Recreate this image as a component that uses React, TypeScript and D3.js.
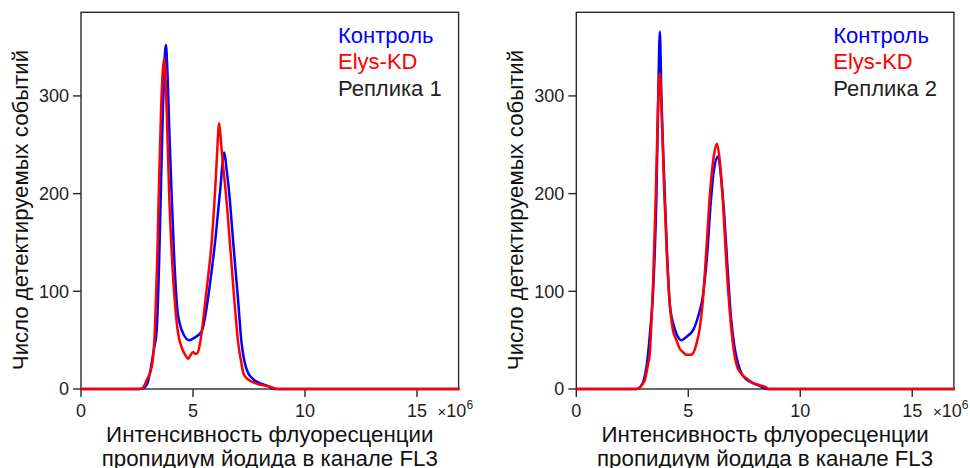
import React from "react";
import * as d3 from "d3";

// x values in units of 10^6, y = event counts
const rep1Control: [number, number][] = [
  [0, 0], [2.6, 0], [2.8, 1], [2.95, 5], [3.1, 19], [3.25, 40], [3.38, 60], [3.5, 140],
  [3.56, 197], [3.65, 280], [3.72, 330], [3.79, 352], [3.85, 330], [3.95, 260], [4.05, 197],
  [4.15, 140], [4.3, 82], [4.42, 66], [4.6, 55], [4.83, 50], [5.1, 53], [5.39, 59], [5.55, 75],
  [5.8, 115], [5.98, 149], [6.2, 200], [6.4, 242], [6.5, 225], [6.62, 200], [6.8, 149],
  [7.0, 95], [7.17, 47], [7.3, 28], [7.47, 16], [7.65, 11], [7.84, 7.5], [8.1, 5], [8.36, 3],
  [8.55, 0.5], [8.7, 0], [16.9, 0],
];
const rep1ElysKD: [number, number][] = [
  [0, 0], [2.6, 0], [2.75, 1], [2.93, 9], [3.16, 23], [3.3, 60], [3.4, 130], [3.47, 197],
  [3.58, 290], [3.72, 338], [3.82, 290], [3.94, 197], [4.05, 140], [4.23, 78], [4.35, 55],
  [4.49, 43], [4.65, 35], [4.79, 31], [4.9, 35], [5.01, 38], [5.1, 36], [5.19, 36.5],
  [5.3, 45], [5.4, 60], [5.55, 90], [5.7, 120], [5.83, 149], [5.98, 200], [6.06, 234],
  [6.17, 272], [6.26, 250], [6.36, 225], [6.47, 200], [6.65, 149], [6.85, 90], [7.02, 47],
  [7.15, 28], [7.25, 16], [7.45, 10], [7.62, 7.5], [8.07, 4], [8.44, 2.4], [8.74, 0], [16.9, 0],
];
const rep2Control: [number, number][] = [
  [0, 0], [2.7, 0], [2.85, 2], [3.0, 8], [3.15, 25], [3.3, 60], [3.43, 100], [3.58, 200],
  [3.66, 300], [3.73, 366], [3.8, 300], [3.95, 200], [4.05, 140], [4.17, 88], [4.35, 65],
  [4.5, 55], [4.69, 50], [4.95, 54], [5.21, 60], [5.45, 75], [5.65, 95], [5.85, 140],
  [6.0, 190], [6.15, 225], [6.33, 238], [6.45, 220], [6.6, 180], [6.75, 125], [6.9, 75],
  [7.05, 45], [7.22, 26], [7.4, 15], [7.59, 10], [7.9, 6], [8.2, 3], [8.45, 0.5], [8.6, 0],
  [16.9, 0],
];
const rep2ElysKD: [number, number][] = [
  [0, 0], [2.7, 0], [2.85, 2], [3.06, 9], [3.2, 25], [3.28, 36], [3.36, 71], [3.43, 110],
  [3.55, 200], [3.65, 290], [3.73, 323], [3.8, 290], [3.93, 200], [4.05, 135], [4.17, 88],
  [4.3, 62], [4.47, 50], [4.6, 42], [4.75, 38], [4.92, 35], [5.1, 35], [5.21, 36.5],
  [5.35, 45], [5.51, 62], [5.65, 90], [5.8, 140], [5.97, 200], [6.15, 240], [6.28, 251],
  [6.4, 235], [6.55, 190], [6.7, 129], [6.85, 80], [7.0, 45], [7.14, 26], [7.35, 16],
  [7.59, 11], [7.9, 6], [8.18, 4], [8.45, 2], [8.62, 0], [16.9, 0],
];

const xTicks = [0, 5, 10, 15];
const yTicks = [0, 100, 200, 300];
const legendLabels = ["Контроль", "Elys-KD"];
const replicaLabels = ["Реплика 1", "Реплика 2"];
const xTitleLines = ["Интенсивность флуоресценции", "пропидиум йодида в канале FL3"];
const yTitle = "Число детектируемых событий";

const FONT = "'Liberation Sans', Arial, sans-serif";
const AXIS = "#2a2a2a";

function Panel({ left, control, kd, replica }: { left: number; control: [number, number][]; kd: [number, number][]; replica: string }) {
  const width = 377.6;
  const top = 12.3;
  const bottom = 389;
  const x = d3.scaleLinear().domain([0, 16.86]).range([left, left + width]);
  const y = d3.scaleLinear().domain([0, 385.6]).range([bottom, top]);
  const line = d3
    .line<[number, number]>()
    .x((d) => x(d[0]))
    .y((d) => y(d[1]))
    .curve(d3.curveMonotoneX);
  const right = left + width;
  const cx = left + width / 2;
  return (
    <g>
      <rect x={left} y={top} width={width} height={bottom - top} fill="none" stroke={AXIS} strokeWidth={1.4} />
      {xTicks.map((t) => (
        <g key={"x" + t}>
          <line x1={x(t)} x2={x(t)} y1={bottom} y2={bottom + 8} stroke={AXIS} strokeWidth={1.4} />
          <text x={x(t)} y={417} textAnchor="middle" fontSize={18} fill="#222" fontFamily={FONT}>
            {t}
          </text>
        </g>
      ))}
      <text x={right - 21} y={417} fontSize={18} fill="#222" fontFamily={FONT}>
        <tspan fontSize={15}>×</tspan>
        <tspan>10</tspan>
        <tspan fontSize={12} dy={-8}>6</tspan>
      </text>
      {yTicks.map((t) => (
        <g key={"y" + t}>
          <line x1={left - 8} x2={left} y1={y(t)} y2={y(t)} stroke={AXIS} strokeWidth={1.4} />
          <text x={left - 12} y={y(t)} dy="0.36em" textAnchor="end" fontSize={18} fill="#222" fontFamily={FONT}>
            {t}
          </text>
        </g>
      ))}
      <path d={line(control) || ""} fill="none" stroke="#0000ff" strokeWidth={2.5} strokeLinejoin="round" />
      <path d={line(kd) || ""} fill="none" stroke="#ff0000" strokeWidth={2.5} strokeLinejoin="round" />
      <text x={left + 257} y={43.3} fontSize={22} fill="#0000ff" fontFamily={FONT}>
        {legendLabels[0]}
      </text>
      <text x={left + 257} y={68.5} fontSize={22} fill="#ff0000" fontFamily={FONT}>
        {legendLabels[1]}
      </text>
      <text x={left + 257} y={95.7} fontSize={22} fill="#222" fontFamily={FONT}>
        {replica}
      </text>
      <text x={cx} y={441.7} textAnchor="middle" fontSize={22.3} fill="#111" fontFamily={FONT}>
        {xTitleLines[0]}
      </text>
      <text x={cx} y={466} textAnchor="middle" fontSize={22.3} fill="#111" fontFamily={FONT}>
        {xTitleLines[1]}
      </text>
      <text
        transform={`translate(${left - 53},210) rotate(-90)`}
        textAnchor="middle"
        fontSize={22.2}
        fill="#111"
        fontFamily={FONT}
      >
        {yTitle}
      </text>
    </g>
  );
}

export default function App() {
  return (
    <svg
      width={970}
      height={468}
      viewBox="0 0 970 468"
      style={{ position: "absolute", left: 0, top: 0, background: "#fff" }}
    >
      <rect width={970} height={468} fill="#fff" />
      <Panel left={81} control={rep1Control} kd={rep1ElysKD} replica={replicaLabels[0]} />
      <Panel left={576.3} control={rep2Control} kd={rep2ElysKD} replica={replicaLabels[1]} />
    </svg>
  );
}
